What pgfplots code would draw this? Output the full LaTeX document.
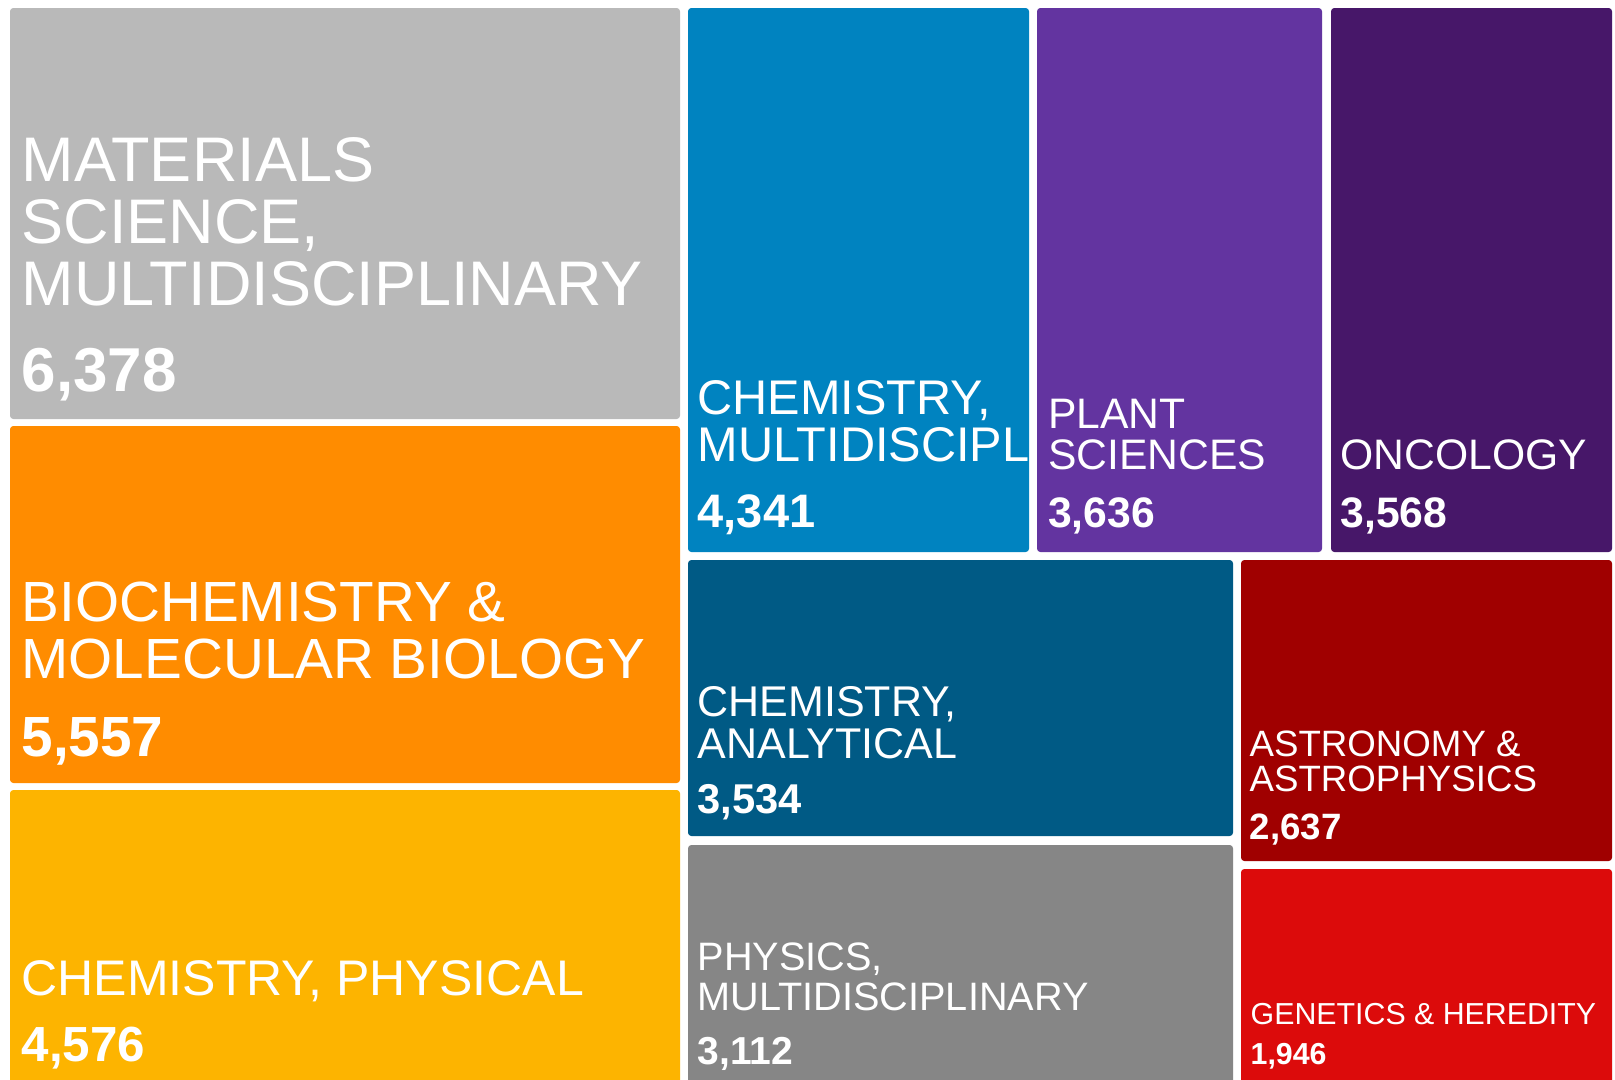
\documentclass[border=0pt]{standalone}
\usepackage{pgfplots}
\pgfplotsset{compat=1.18}
\usepackage{fontspec}
\setmainfont{Liberation Sans}
\definecolor{cMat}{HTML}{B9B9B9}
\definecolor{cBio}{HTML}{FF8C00}
\definecolor{cPhy}{HTML}{FDB400}
\definecolor{cMul}{HTML}{0083C0}
\definecolor{cPla}{HTML}{6334A0}
\definecolor{cOnc}{HTML}{471769}
\definecolor{cAna}{HTML}{005A85}
\definecolor{cPhm}{HTML}{868686}
\definecolor{cAst}{HTML}{A00000}
\definecolor{cGen}{HTML}{DC0B0B}
\newcommand{\lab}[5]{\node[anchor=base west, inner sep=0pt, text=white, font=\fontsize{#3bp}{#3bp}\selectfont#4] at (axis cs:#1,#2) {#5};}
\newcommand{\cell}[5]{\addplot[fill=#5, draw=none, rounded corners=1bp] coordinates {(#1,#2) (#3,#2) (#3,#4) (#1,#4)} -- cycle;}
\begin{document}
\begin{tikzpicture}
\begin{axis}[
  scale only axis, width=484.5bp, height=324bp,
  xmin=0, xmax=1615, ymin=0, ymax=1080, y dir=reverse,
  hide axis, clip=true]
\addplot[fill=white, draw=none] coordinates {(0,0) (1615,0) (1615,1080) (0,1080)} -- cycle;
\cell{10}{8}{680}{419}{cMat}
\cell{10}{426}{680}{783}{cBio}
\cell{10}{790}{680}{1095}{cPhy}
\cell{688}{8}{1029}{552}{cMul}
\cell{1037}{8}{1322}{552}{cPla}
\cell{1331}{8}{1612}{552}{cOnc}
\cell{688}{560}{1233}{836}{cAna}
\cell{688}{845}{1233}{1095}{cPhm}
\cell{1241}{560}{1612}{861}{cAst}
\cell{1241}{869}{1612}{1095}{cGen}
% Materials
\lab{21}{181.5}{18.9}{}{MATERIALS}
\lab{21}{243}{18.9}{}{SCIENCE,}
\lab{21}{305}{18.9}{}{MULTIDISCIPLINARY}
\lab{21}{391.5}{18.6}{\bfseries}{6,378}
% Biochem
\lab{21}{621}{17}{}{BIOCHEMISTRY \&}
\lab{21}{678}{17}{}{MOLECULAR BIOLOGY}
\lab{21}{756}{17}{\bfseries}{5,557}
% Chem phys
\lab{21}{995}{15.0}{}{CHEMISTRY, PHYSICAL}
\lab{21}{1061}{14.8}{\bfseries}{4,576}
% Chem multi
\lab{697}{414}{14.6}{}{CHEMISTRY,}
\lab{697}{461.5}{14.6}{}{MULTIDISCIPL}
\lab{697}{527.4}{14.1}{\bfseries}{4,341}
% Plant
\lab{1047.5}{428.5}{12.8}{}{PLANT}
\lab{1047.5}{469.7}{12.8}{}{SCIENCES}
\lab{1047.5}{527.4}{12.8}{\bfseries}{3,636}
% Oncology
\lab{1340}{469.7}{12.8}{}{ONCOLOGY}
\lab{1340}{527.4}{12.8}{\bfseries}{3,568}
% Chem anal
\lab{697}{716}{12.9}{}{CHEMISTRY,}
\lab{697}{758}{12.9}{}{ANALYTICAL}
\lab{697}{813.8}{12.5}{\bfseries}{3,534}
% Physics
\lab{697}{970}{11.9}{}{PHYSICS,}
\lab{697}{1010.5}{11.9}{}{MULTIDISCIPLINARY}
\lab{697}{1064}{11.7}{\bfseries}{3,112}
% Astronomy
\lab{1249}{756}{11}{}{ASTRONOMY \&}
\lab{1249}{791}{11}{}{ASTROPHYSICS}
\lab{1249}{839.5}{11}{\bfseries}{2,637}
% Genetics
\lab{1250}{1024}{9.1}{}{GENETICS \& HEREDITY}
\lab{1250}{1064}{9.1}{\bfseries}{1,946}
\end{axis}
\end{tikzpicture}
\end{document}
